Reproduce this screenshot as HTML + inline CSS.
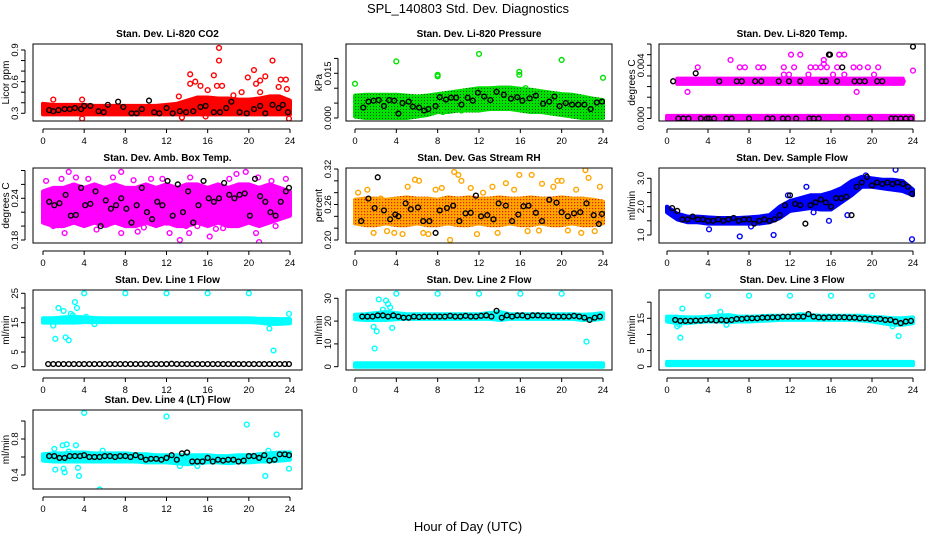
<!DOCTYPE html>
<html><head><meta charset="utf-8">
<style>
html,body{margin:0;padding:0;background:#fff;}
svg{display:block;font-family:"Liberation Sans",sans-serif;}
</style></head>
<body>
<svg id="chart" width="936" height="540" viewBox="0 0 936 540">
<defs>
<pattern id="pat-green" width="3" height="3" patternUnits="userSpaceOnUse"><rect width="3" height="3" fill="#00e000"/><rect x="1" y="1" width="1" height="1" fill="#005000"/></pattern>
<pattern id="pat-orange" width="3" height="3" patternUnits="userSpaceOnUse"><rect width="3" height="3" fill="#ffa500"/><rect x="1" y="1" width="1.2" height="1.2" fill="#e02000"/></pattern>
</defs>
<text x="468" y="13" font-size="13" text-anchor="middle">SPL_140803  Std. Dev. Diagnostics</text>
<text x="468" y="531" font-size="13" text-anchor="middle">Hour of Day (UTC)</text>
</svg>
<script>
const BH = [0,1,2,3,4,5,6,7,8,9,10,11,12,13,14,15,16,17,18,19,20,21,22,23,24];
const xTicks = [0,4,8,12,16,20,24];

// Panel 1 CO2
const co2Lo = [0.29,0.29,0.29,0.29,0.29,0.29,0.29,0.29,0.29,0.29,0.29,0.29,0.29,0.29,0.29,0.29,0.29,0.29,0.29,0.29,0.29,0.29,0.29,0.29,0.29];
const co2Hi = [0.39,0.38,0.38,0.38,0.38,0.37,0.37,0.37,0.37,0.37,0.37,0.37,0.38,0.39,0.42,0.45,0.45,0.44,0.44,0.43,0.43,0.44,0.46,0.46,0.42];
const co2OutX = [1,3.8,3.8,14.3,14.3,14.8,15.3,16.6,17.1,17.1,16.9,17.4,19.3,19.9,20.5,20.7,21.1,21.6,21.1,22.3,23.1,23.6,23.7,23.9,22.9,13.5,15.8,16,13.2,18.5];
const co2OutY = [0.43,0.43,0.25,0.67,0.58,0.6,0.56,0.66,0.92,0.8,0.56,0.56,0.5,0.64,0.71,0.58,0.61,0.65,0.5,0.8,0.62,0.62,0.53,0.25,0.55,0.26,0.27,0.52,0.46,0.47];
const co2BlkX = [0.6,1,1.5,2.1,2.6,3.1,3.7,4,4.6,5.4,5.9,6.3,7.3,7.8,8.6,9.1,9.6,10.3,10.8,11.3,12,12.6,13.3,13.9,14.6,15.3,15.8,16.6,17.2,17.8,18.3,19.1,19.8,20.5,21.1,21.6,22.3,22.9,23.3,23.8];
const co2BlkY = [0.33,0.32,0.33,0.34,0.34,0.35,0.34,0.37,0.37,0.32,0.31,0.38,0.41,0.36,0.3,0.3,0.34,0.42,0.31,0.3,0.35,0.3,0.32,0.31,0.32,0.36,0.37,0.31,0.31,0.35,0.41,0.31,0.3,0.34,0.37,0.3,0.38,0.35,0.38,0.31];

// Panel 2 Pressure
const prLo = [0.0005,0,0,0,0,0,0.0005,0.001,0.002,0.002,0.0025,0.0025,0.0025,0.003,0.003,0.003,0.0025,0.002,0.002,0.0015,0.001,0.0005,0,0,0];
const prHi = [0.0075,0.0078,0.0078,0.0078,0.0078,0.0075,0.0072,0.0075,0.008,0.0085,0.009,0.0095,0.01,0.01,0.0102,0.0102,0.0098,0.0095,0.009,0.0085,0.008,0.0078,0.0072,0.0065,0.006];
const prOutX = [0,4,8,8,12,15.9,15.9,20,24,8.5,10.3,16.5];
const prOutY = [0.0115,0.019,0.0145,0.014,0.0215,0.0155,0.0145,0.0195,0.0135,0.002,0.0025,0.01];
const prBlkX = [0.8,1.3,1.8,2.3,2.8,3.3,3.8,4.2,4.6,5.2,5.6,6.2,6.7,7.1,7.8,8.2,8.8,9.3,9.8,10.3,10.9,11.4,11.9,12.5,13.1,13.7,14.4,15.1,15.7,16.2,16.9,17.5,18.2,18.8,19.3,19.8,20.4,21,21.6,22.2,22.8,23.4,23.9];
const prBlkY = [0.0035,0.0055,0.0058,0.006,0.004,0.006,0.0058,0.0015,0.005,0.0055,0.0038,0.0035,0.0025,0.003,0.004,0.007,0.0062,0.0068,0.0068,0.0045,0.0068,0.0058,0.0085,0.0072,0.006,0.0088,0.0078,0.0065,0.007,0.0058,0.0066,0.0075,0.0048,0.0055,0.0072,0.004,0.005,0.0045,0.0045,0.0045,0.003,0.0052,0.0055];

// Panel 3 Temp
const tmUpLo = [null,0.0026,0.0026,0.0026,0.0026,0.0026,0.0026,0.0026,0.0026,0.0026,0.0026,0.0026,0.0026,0.0026,0.0026,0.0026,0.0026,0.0026,0.0026,0.0026,0.0026,0.0026,0.0026,0.0026,null];
const tmUpHi = [null,0.003,0.003,0.003,0.003,0.003,0.003,0.003,0.003,0.003,0.003,0.003,0.003,0.003,0.003,0.003,0.003,0.003,0.003,0.003,0.003,0.003,0.003,0.003,null];
const tmZeroLo = [-0.0002,-0.0002,-0.0002,-0.0002,-0.0002,-0.0002,-0.0002,-0.0002,-0.0002,-0.0002,-0.0002,-0.0002,-0.0002,-0.0002,-0.0002,-0.0002,-0.0002,-0.0002,-0.0002,-0.0002,-0.0002,-0.0002,-0.0002,-0.0002,-0.0002];
const tmZeroHi = [0.0002,0.0002,0.0002,0.0002,0.0002,0.0002,0.0002,0.0002,0.0002,0.0002,0.0002,0.0002,0.0002,0.0002,0.0002,0.0002,0.0002,0.0002,0.0002,0.0002,0.0002,0.0002,0.0002,0.0002,0.0002];
const tmOutX = [2,3,6.2,7.1,7.6,8.9,9.4,11.4,11.4,11.9,12.1,12.4,13,13.8,14,14.5,15,15.3,15.3,15.6,15.8,16.2,16.6,16.8,17.3,17.3,18.2,18.5,18.8,19.6,20.2,20.6,24,0.6,23];
const tmOutY = [0.002,0.00385,0.0044,0.00385,0.00385,0.00385,0.00385,0.00385,0.0033,0.0033,0.0048,0.00385,0.0048,0.0033,0.00385,0.00385,0.00385,0.0041,0.0044,0.00385,0.0048,0.0033,0.00385,0.0048,0.0048,0.0033,0.00385,0.002,0.00385,0.00385,0.0033,0.00385,0.0036,0.0028,0.0028];
const tmBlkX = [1.1,1.6,2.1,3.3,3.9,4.1,4.6,5.8,6.3,8,9.8,10.3,11.3,11.8,12.6,13.9,14.3,14.8,17.6,19.8,21.9,22.3,22.8,23.3,23.8,0.6,5.1,6.8,7.3,8.6,9.2,10.9,11.9,13,15.1,15.5,16.6,18.3,18.8,19.3,20.5,21,2.8,15.8,15.9,17.1,24];
const tmBlkY = [0,0,0,0,0,0,0,0,0,0,0,0,0,0,0,0,0,0,0,0,0,0,0,0,0,0.0028,0.0028,0.0028,0.0028,0.0028,0.0028,0.0028,0.0028,0.0028,0.0028,0.0028,0.0028,0.0028,0.0028,0.0028,0.0028,0.0028,0.0034,0.0048,0.0048,0.00385,0.0054];

// Panel 4 Amb box temp
const ambLo = [0.205,0.2,0.2,0.205,0.2,0.205,0.2,0.205,0.2,0.2,0.205,0.2,0.205,0.2,0.2,0.205,0.2,0.205,0.2,0.2,0.205,0.2,0.205,0.21,0.215];
const ambHi = [0.25,0.255,0.255,0.26,0.255,0.26,0.255,0.26,0.255,0.255,0.26,0.255,0.26,0.255,0.26,0.26,0.255,0.26,0.255,0.26,0.26,0.255,0.26,0.255,0.25];
const ambOutX = [2.5,7.6,19.7,18.8,13.3,14.2,21,20.7,2.1,7.6,9.2,12.3,16.2,15,1,23.6,14.3,6.8,3.2,10.5,22.6,5.2,17.5,12,0.3,4.4,8.8,11.6,20.9,22.2,9.8,16.8,1.8,6.2,13.9,18.1];
const ambOutY = [0.278,0.278,0.278,0.275,0.18,0.19,0.177,0.19,0.19,0.19,0.192,0.19,0.185,0.2,0.2,0.268,0.27,0.27,0.27,0.268,0.2,0.195,0.197,0.205,0.265,0.268,0.266,0.268,0.27,0.265,0.198,0.196,0.268,0.202,0.2,0.268];
const ambBlkX = [0.6,1.1,1.6,2.2,2.7,3.2,3.7,4.1,4.6,5.1,5.6,6.1,6.6,7.1,7.6,8.1,8.6,9.1,9.6,10.1,10.6,11.1,11.6,12.1,12.6,13.1,13.6,14.1,14.6,15.1,15.6,16.1,16.6,17.1,17.6,18.1,18.6,19.1,19.6,20.1,20.6,21.1,21.6,22.1,22.6,23.1,23.6,23.9];
const ambBlkY = [0.235,0.23,0.233,0.245,0.215,0.216,0.255,0.23,0.232,0.25,0.2,0.237,0.225,0.23,0.24,0.225,0.205,0.23,0.255,0.22,0.21,0.235,0.23,0.265,0.215,0.26,0.22,0.25,0.205,0.23,0.265,0.24,0.235,0.24,0.262,0.245,0.24,0.245,0.247,0.215,0.268,0.243,0.235,0.22,0.215,0.235,0.25,0.255];

// Panel 5 Gas stream RH
const rhLo = [0.228,0.225,0.225,0.228,0.225,0.225,0.228,0.225,0.225,0.228,0.225,0.225,0.228,0.225,0.225,0.228,0.225,0.225,0.228,0.225,0.225,0.228,0.225,0.225,0.228];
const rhHi = [0.268,0.27,0.27,0.268,0.27,0.272,0.27,0.27,0.268,0.272,0.27,0.272,0.27,0.27,0.272,0.27,0.27,0.272,0.27,0.27,0.272,0.27,0.27,0.268,0.265];
const rhOutX = [0.3,1.2,2.5,3.1,4.6,5.8,6.2,7.1,7.8,9.2,9.6,10,10.3,11.2,12.4,13.3,14.6,15.4,15.9,16.7,17.1,18.1,19.2,20,20.6,21.4,22.3,22.6,23.2,23.7,1.8,3.8,6.6,8.4,11.8,13.8,17.8,19.6,21.9,5.1];
const rhOutY = [0.28,0.285,0.27,0.215,0.21,0.302,0.3,0.21,0.285,0.2,0.315,0.31,0.3,0.288,0.28,0.29,0.296,0.285,0.31,0.215,0.31,0.295,0.29,0.3,0.216,0.285,0.318,0.305,0.215,0.29,0.212,0.212,0.212,0.288,0.21,0.212,0.216,0.3,0.212,0.29];
const rhBlkX = [0.6,1.3,1.9,2.2,2.8,3.4,3.9,4.2,4.9,5.4,6.1,6.6,7.2,7.8,8.2,8.9,9.5,10.1,10.7,11.2,11.7,12.2,12.8,13.4,13.9,14.6,15.2,15.8,16.3,16.8,17.5,18.1,18.8,19.5,20,20.6,21.2,21.8,22.4,23.1,23.6,23.9];
const rhBlkY = [0.232,0.27,0.254,0.306,0.25,0.235,0.243,0.24,0.262,0.252,0.255,0.232,0.232,0.212,0.25,0.254,0.258,0.232,0.245,0.246,0.275,0.24,0.242,0.235,0.262,0.258,0.232,0.243,0.257,0.258,0.246,0.232,0.268,0.263,0.247,0.24,0.245,0.247,0.262,0.242,0.227,0.244];

// Panel 6 Sample flow
const sfLo = [1.8,1.55,1.45,1.45,1.4,1.4,1.4,1.4,1.4,1.4,1.45,1.6,1.85,1.9,1.95,1.9,1.9,2.15,2.4,2.7,2.7,2.65,2.6,2.55,2.4];
const sfHi = [2.0,1.75,1.65,1.65,1.62,1.6,1.6,1.6,1.62,1.65,1.7,2.0,2.2,2.3,2.4,2.4,2.5,2.65,2.9,3.05,3.0,2.95,2.95,2.9,2.6];
const sfOutX = [4.1,7.1,10.4,13.6,15.8,17.6,19.4,22.3,23.9,8.2,11.8,14.3];
const sfOutY = [1.2,0.95,1.0,2.7,1.5,1.7,3.1,3.3,0.85,1.3,2.4,1.8];
const sfBlkX = [0.5,1,1.5,2,2.5,3,3.5,4,4.5,5,5.5,6,6.5,7,7.5,8,8.5,9,9.5,10,10.5,11,11.5,12,12.5,13,13.5,14,14.5,15,15.5,16,16.5,17,17.5,18,18.5,19,19.5,20,20.5,21,21.5,22,22.5,23,23.5,23.9];
const sfBlkY = [1.95,1.85,1.55,1.55,1.65,1.55,1.55,1.5,1.5,1.55,1.5,1.55,1.6,1.5,1.55,1.55,1.4,1.5,1.55,1.5,1.55,1.7,2.05,2.4,2.1,2.05,1.4,2.05,2.15,2.25,2.15,2.0,2.3,2.3,2.35,1.7,2.7,2.85,3.05,2.75,2.85,2.8,2.85,2.8,2.85,2.8,2.7,2.45];

// Panel 7 Line 1 flow
const l1Lo = [15,15,15,15,15.2,15.2,15.2,15.2,15.2,15.2,15.2,15.2,15.2,15.2,15.2,15.2,15.2,15.2,15.2,15.2,15.2,15,14.6,14.6,14.8];
const l1Hi = [16.5,16.5,16.8,17,16.8,16.6,16.5,16.5,16.5,16.5,16.5,16.5,16.5,16.5,16.5,16.5,16.5,16.5,16.5,16.5,16.5,16.3,16.3,16.2,16.2];
const l1OutX = [1,1.2,1.5,2,2.2,2.5,2.9,3.1,3.3,4,4.2,5,8,12,16,20,22,22.4,23.9,1.8,2.7];
const l1OutY = [14,9.5,20,19,10,9,17.5,22,20,25,17,14.5,25,25,25,25,13,5.5,18,16,18];
const l1BlkX = [0.5,1,1.5,2,2.5,3,3.5,4,4.5,5,5.5,6,6.5,7,7.5,8,8.5,9,9.5,10,10.5,11,11.5,12,12.5,13,13.5,14,14.5,15,15.5,16,16.5,17,17.5,18,18.5,19,19.5,20,20.5,21,21.5,22,22.5,23,23.5,23.9];
const l1BlkY = [0.9,0.9,0.9,0.9,0.9,0.9,0.9,0.9,0.9,0.9,0.9,0.9,0.9,0.9,0.9,0.9,0.9,0.9,0.9,0.9,0.9,0.9,0.9,0.9,1,0.9,0.9,0.9,0.9,0.9,0.9,0.9,0.9,0.9,0.9,0.9,0.9,0.9,0.9,0.9,0.9,0.9,0.9,0.9,0.9,0.9,0.9,0.9];

// Panel 8 Line 2 flow
const l2Lo = [20.8,20.5,20.5,20.5,20.8,21,21,21,21,21,21,21,21,21,20.5,21,21,21,21,21,21,21,20.5,20.5,21];
const l2Hi = [22.8,23,23.5,24,23.5,23,23,23,23,23,23,23,23,23.5,24,23,23,23,23,23,23,23,22.8,23,23.5];
const l2BotLo = [0,0,0,0,0,0,0,0,0,0,0,0,0,0,0,0,0,0,0,0,0,0,0,0,0];
const l2BotHi = [1.5,1.5,1.5,1.5,1.5,1.5,1.5,1.5,1.5,1.5,1.5,1.5,1.5,1.5,1.5,1.5,1.5,1.5,1.5,1.5,1.5,1.5,1.5,1.5,1.5];
const l2OutX = [1.8,1.9,2.1,2.3,3,3.2,3.4,3.6,4,8,12,16,20,22.4,1.6,2.7];
const l2OutY = [17.5,8,15.5,29.5,29,27.5,26,17,32,32,32,32,32,11,22,25];
const l2BlkX = [0.7,1.2,1.7,2.2,2.7,3.2,3.7,4.2,4.7,5.2,5.7,6.2,6.7,7.2,7.7,8.2,8.7,9.2,9.7,10.2,10.7,11.2,11.7,12.2,12.7,13.2,13.7,14.2,14.7,15.2,15.7,16.2,16.7,17.2,17.7,18.2,18.7,19.2,19.7,20.2,20.7,21.2,21.7,22.2,22.7,23.2,23.7];
const l2BlkY = [22,22,22,22.5,22.5,22,22.5,22,21.5,21.5,22,21.8,22,22,22,22,22,22.3,22,22,22.3,22,22,22.3,22.5,22,24.5,21.5,22.5,22,22.5,22.5,22,22.5,22.5,22.3,22.3,22,22,22,22,22.3,22,21.5,20.5,21.5,22];

// Panel 9 Line 3 flow
const l3Lo = [14,13.5,13.5,13.8,14,14,13.8,14,14,14.2,14.3,14.5,14.5,14.5,14.5,14.5,14.5,14.5,14.5,14.3,14,13.5,13,13,13.5];
const l3Hi = [15.5,15.5,15.3,15.3,15.5,15.8,16,15.5,15.5,15.6,15.8,15.8,15.8,16.3,16,15.8,15.8,15.8,15.8,15.8,15.5,15.3,15,15,15.3];
const l3BotLo = [0.5,0.5,0.5,0.5,0.5,0.5,0.5,0.5,0.5,0.5,0.5,0.5,0.5,0.5,0.5,0.5,0.5,0.5,0.5,0.5,0.5,0.5,0.5,0.5,0.5];
const l3BotHi = [1.5,1.5,1.5,1.5,1.5,1.5,1.5,1.5,1.5,1.5,1.5,1.5,1.5,1.5,1.5,1.5,1.5,1.5,1.5,1.5,1.5,1.5,1.5,1.5,1.5];
const l3OutX = [1,1.3,1.5,4,8,12,16,20,22.6,22.5,1.2,5.2,5.8,22];
const l3OutY = [12.5,9,18,22,22,22,22,22,9.5,14,13,17,13,12.5];
const l3BlkX = [0.8,1.3,1.8,2.3,2.8,3.3,3.8,4.3,4.8,5.3,5.8,6.3,6.8,7.3,7.8,8.3,8.8,9.3,9.8,10.3,10.8,11.3,11.8,12.3,12.8,13.3,13.8,14.3,14.8,15.3,15.8,16.3,16.8,17.3,17.8,18.3,18.8,19.3,19.8,20.3,20.8,21.3,21.8,22.3,22.8,23.3,23.8];
const l3BlkY = [14.5,14.2,14.2,14.2,14.3,14.3,14.5,14.5,14.3,14.5,14.3,14.5,14.8,14.8,15,15,15,15.2,15.2,15.3,15.3,15.5,15.5,15.5,15.5,15.5,16.3,15.5,15.3,15.2,15.3,15.3,15.3,15.3,15.2,15.2,15,15,14.8,14.8,14.8,14.5,14.5,14,13.5,14,14.2];

// Panel 10 Line 4 flow
const l4Lo = [0.56,0.55,0.55,0.55,0.55,0.55,0.55,0.55,0.55,0.55,0.54,0.54,0.54,0.53,0.52,0.53,0.54,0.54,0.53,0.54,0.54,0.55,0.55,0.56,0.57];
const l4Hi = [0.63,0.64,0.64,0.65,0.65,0.64,0.64,0.64,0.64,0.63,0.63,0.62,0.62,0.62,0.62,0.62,0.62,0.61,0.61,0.62,0.62,0.63,0.64,0.65,0.65];
const l4OutX = [1.1,1.2,1.9,2,2.1,2.3,3.2,3.4,3.5,4,5.5,12,15,19.8,21.6,22.7,23.9,2.5,5.8,13.3,21.9];
const l4OutY = [0.69,0.46,0.73,0.47,0.43,0.74,0.73,0.48,0.39,1.09,0.24,1.05,0.5,0.96,0.39,0.85,0.47,0.66,0.67,0.5,0.67];
const l4BlkX = [0.6,1.1,1.6,2.1,2.6,3.1,3.6,4,4.5,5,5.5,6,6.5,7,7.5,8,8.5,9,9.5,10,10.5,11,11.5,12,12.5,13,13.5,14,14.5,15,15.5,16,16.5,17,17.5,18,18.5,19,19.5,20,20.5,21,21.5,22,22.5,23,23.5,23.9];
const l4BlkY = [0.61,0.61,0.59,0.59,0.61,0.61,0.61,0.62,0.6,0.6,0.6,0.61,0.61,0.6,0.61,0.61,0.6,0.62,0.6,0.57,0.58,0.58,0.57,0.59,0.62,0.57,0.64,0.65,0.55,0.55,0.55,0.59,0.55,0.57,0.56,0.57,0.57,0.55,0.56,0.61,0.61,0.59,0.62,0.56,0.57,0.63,0.63,0.62];

const svg = document.getElementById('chart');
const NS = 'http://www.w3.org/2000/svg';
function mk(tag, attrs, parent){
  const e = document.createElementNS(NS, tag);
  for (const k in attrs) e.setAttribute(k, attrs[k]);
  (parent || svg).appendChild(e);
  return e;
}
const cols = [{l:33,r:302,x0:43,x24:290},{l:346,r:612,x0:355,x24:603},{l:659,r:925,x0:667,x24:913}];
const rows = [{t:44,b:121},{t:168,b:243},{t:290,b:370},{t:410,b:489}];

function panel(cfg){
  const c = cols[cfg.col], r = rows[cfg.row];
  const g = mk('g', {});
  
  
  const xs = h => c.x0 + (c.x24 - c.x0) * h / 24;
  const ys = v => cfg.y0 + (cfg.y1 - cfg.y0) * (v - cfg.v0) / (cfg.v1 - cfg.v0);
  const clip = 'clip-' + cfg.name;
  const cp = mk('clipPath', {id: clip}, g);
  mk('rect', {x:c.l, y:r.t, width:c.r-c.l, height:r.b-r.t}, cp);
  const plot = mk('g', {'clip-path':'url(#'+clip+')'}, g);
  (cfg.bands || []).forEach(bd => {
    const top = [], bot = [];
    BH.forEach((h,i) => { if (bd.lo[i] !== null) { top.push(xs(h)+','+ys(bd.hi[i])); bot.unshift(xs(h)+','+ys(bd.lo[i])); } });
    const p = mk('polygon', {points: top.concat(bot).join(' '), fill: bd.fill || bd.color, stroke: bd.fill || bd.color, 'stroke-width': 4, 'stroke-linejoin':'round'}, plot);
    
    
  });
  (cfg.pts || []).forEach(s => {
    s.x.forEach((h,i) => {
      const ci = mk('circle', {cx: xs(h), cy: ys(s.y[i]), r: 2.4, fill: 'none', stroke: s.color, 'stroke-width': 1.4}, plot);
      
      
    });
  });
  const box = mk('rect', {x:c.l, y:r.t, width:c.r-c.l, height:r.b-r.t, fill:'none', stroke:'#000', 'stroke-width':1}, g);
  
  
  const xb = r.b + 8;
  mk('line', {x1:xs(0), x2:xs(24), y1:xb, y2:xb, stroke:'#000'}, g);
  xTicks.forEach(t => {
    mk('line', {x1:xs(t), x2:xs(t), y1:xb, y2:xb+4, stroke:'#000'}, g);
    const tx = mk('text', {x:xs(t), y:xb+15, 'font-size':9.5, 'text-anchor':'middle'}, g);
    tx.textContent = t;
    
    
  });
  const yl = c.l - 8;
  mk('line', {x1:yl, x2:yl, y1:ys(cfg.yt[0]), y2:ys(cfg.yt[cfg.yt.length-1]), stroke:'#000'}, g);
  cfg.yt.forEach((t,i) => {
    mk('line', {x1:yl-4, x2:yl, y1:ys(t), y2:ys(t), stroke:'#000'}, g);
    if (cfg.yl[i] !== '') {
      const tx = mk('text', {x:0, y:0, 'font-size':9.5, 'text-anchor':'middle', transform:'translate('+(yl-7)+','+ys(t)+') rotate(-90)'}, g);
      tx.textContent = cfg.yl[i];
      
      
    }
  });
  const yt = mk('text', {x:0, y:0, 'font-size':10, 'text-anchor':'middle', transform:'translate('+(c.l-24)+','+((r.t+r.b)/2)+') rotate(-90)'}, g);
  yt.textContent = cfg.ylab;
  
  
  const ti = mk('text', {x:(c.l+c.r)/2, y:r.t-7, 'font-size':10, 'font-weight':'bold', 'text-anchor':'middle'}, g);
  ti.textContent = cfg.title;
  
  
}

const RED='#ff0000', GRN='#00e000', MAG='#ff00ff', ORG='#ffa500', BLU='#0000ff', CYN='#00ffff', BLK='#000000';
panel({name:'panel-co2', col:0,row:0,title:'Stan. Dev. Li-820 CO2', ylab:'Licor ppm', v0:0.3,y0:113.3,v1:0.9,y1:50,
  yt:[0.3,0.4,0.5,0.6,0.7,0.8,0.9], yl:['0.3','','','0.6','','','0.9'],
  bands:[{lo:co2Lo,hi:co2Hi,color:RED}],
  pts:[{x:co2OutX,y:co2OutY,color:RED,label:'co2-point'},{x:co2BlkX,y:co2BlkY,color:BLK,label:'co2-black-point'}]});
panel({name:'panel-pressure', col:1,row:0,title:'Stan. Dev. Li-820 Pressure', ylab:'kPa', v0:0,y0:118,v1:0.015,y1:73.3,
  yt:[0,0.005,0.01,0.015,0.02], yl:['0.000','','','0.015',''],
  bands:[{lo:prLo,hi:prHi,color:GRN,fill:'url(#pat-green)'}],
  pts:[{x:prOutX,y:prOutY,color:GRN,label:'pressure-point'},{x:prBlkX,y:prBlkY,color:BLK,label:'pressure-black-point'}]});
panel({name:'panel-temp', col:2,row:0,title:'Stan. Dev. Li-820 Temp.', ylab:'degrees C', v0:0,y0:118.5,v1:0.004,y1:65.3,
  yt:[0,0.0008,0.0016,0.0024,0.0032,0.004,0.0048,0.0056], yl:['0.000','','','','','0.004','',''],
  bands:[{lo:tmZeroLo,hi:tmZeroHi,color:MAG},{lo:tmUpLo,hi:tmUpHi,color:MAG}],
  pts:[{x:tmOutX,y:tmOutY,color:MAG,label:'temp-point'},{x:tmBlkX,y:tmBlkY,color:BLK,label:'temp-black-point'}]});
panel({name:'panel-amb-temp', col:0,row:1,title:'Stan. Dev. Amb. Box Temp.', ylab:'degrees C', v0:0.18,y0:240,v1:0.24,y1:198.3,
  yt:[0.18,0.2,0.22,0.24,0.26,0.28], yl:['0.18','','','0.24','',''],
  bands:[{lo:ambLo,hi:ambHi,color:MAG}],
  pts:[{x:ambOutX,y:ambOutY,color:MAG,label:'amb-temp-point'},{x:ambBlkX,y:ambBlkY,color:BLK,label:'amb-temp-black-point'}]});
panel({name:'panel-rh', col:1,row:1,title:'Stan. Dev. Gas Stream RH', ylab:'percent', v0:0.2,y0:240,v1:0.32,y1:169,
  yt:[0.2,0.22,0.24,0.26,0.28,0.3,0.32], yl:['0.20','','','0.26','','','0.32'],
  bands:[{lo:rhLo,hi:rhHi,color:ORG,fill:'url(#pat-orange)'}],
  pts:[{x:rhOutX,y:rhOutY,color:ORG,label:'rh-point'},{x:rhBlkX,y:rhBlkY,color:BLK,label:'rh-black-point'}]});
panel({name:'panel-sample-flow', col:2,row:1,title:'Stan. Dev. Sample Flow', ylab:'ml/min', v0:1,y0:235,v1:3,y1:178.3,
  yt:[1,1.5,2,2.5,3], yl:['1.0','','2.0','','3.0'],
  bands:[{lo:sfLo,hi:sfHi,color:BLU}],
  pts:[{x:sfOutX,y:sfOutY,color:BLU,label:'sample-flow-point'},{x:sfBlkX,y:sfBlkY,color:BLK,label:'sample-flow-black-point'}]});
panel({name:'panel-line1', col:0,row:2,title:'Stan. Dev. Line 1 Flow', ylab:'ml/min', v0:0,y0:366.7,v1:25,y1:293.3,
  yt:[0,5,10,15,20,25], yl:['0','5','','15','','25'],
  bands:[{lo:l1Lo,hi:l1Hi,color:CYN}],
  pts:[{x:l1OutX,y:l1OutY,color:CYN,label:'line1-point'},{x:l1BlkX,y:l1BlkY,color:BLK,label:'line1-black-point'}]});
panel({name:'panel-line2', col:1,row:2,title:'Stan. Dev. Line 2 Flow', ylab:'ml/min', v0:0,y0:366.7,v1:30,y1:298.3,
  yt:[0,10,20,30], yl:['0','10','20','30'],
  bands:[{lo:l2Lo,hi:l2Hi,color:CYN},{lo:l2BotLo,hi:l2BotHi,color:CYN}],
  pts:[{x:l2OutX,y:l2OutY,color:CYN,label:'line2-point'},{x:l2BlkX,y:l2BlkY,color:BLK,label:'line2-black-point'}]});
panel({name:'panel-line3', col:2,row:2,title:'Stan. Dev. Line 3 Flow', ylab:'ml/min', v0:0,y0:366.7,v1:15,y1:318.3,
  yt:[0,5,10,15,20], yl:['0','5','','15',''],
  bands:[{lo:l3Lo,hi:l3Hi,color:CYN},{lo:l3BotLo,hi:l3BotHi,color:CYN}],
  pts:[{x:l3OutX,y:l3OutY,color:CYN,label:'line3-point'},{x:l3BlkX,y:l3BlkY,color:BLK,label:'line3-black-point'}]});
panel({name:'panel-line4', col:0,row:3,title:'Stan. Dev. Line 4 (LT) Flow', ylab:'ml/min', v0:0.4,y0:475,v1:0.8,y1:439,
  yt:[0.4,0.6,0.8,1.0], yl:['0.4','','0.8',''],
  bands:[{lo:l4Lo,hi:l4Hi,color:CYN}],
  pts:[{x:l4OutX,y:l4OutY,color:CYN,label:'line4-point'},{x:l4BlkX,y:l4BlkY,color:BLK,label:'line4-black-point'}]});
</script>
</body></html>
